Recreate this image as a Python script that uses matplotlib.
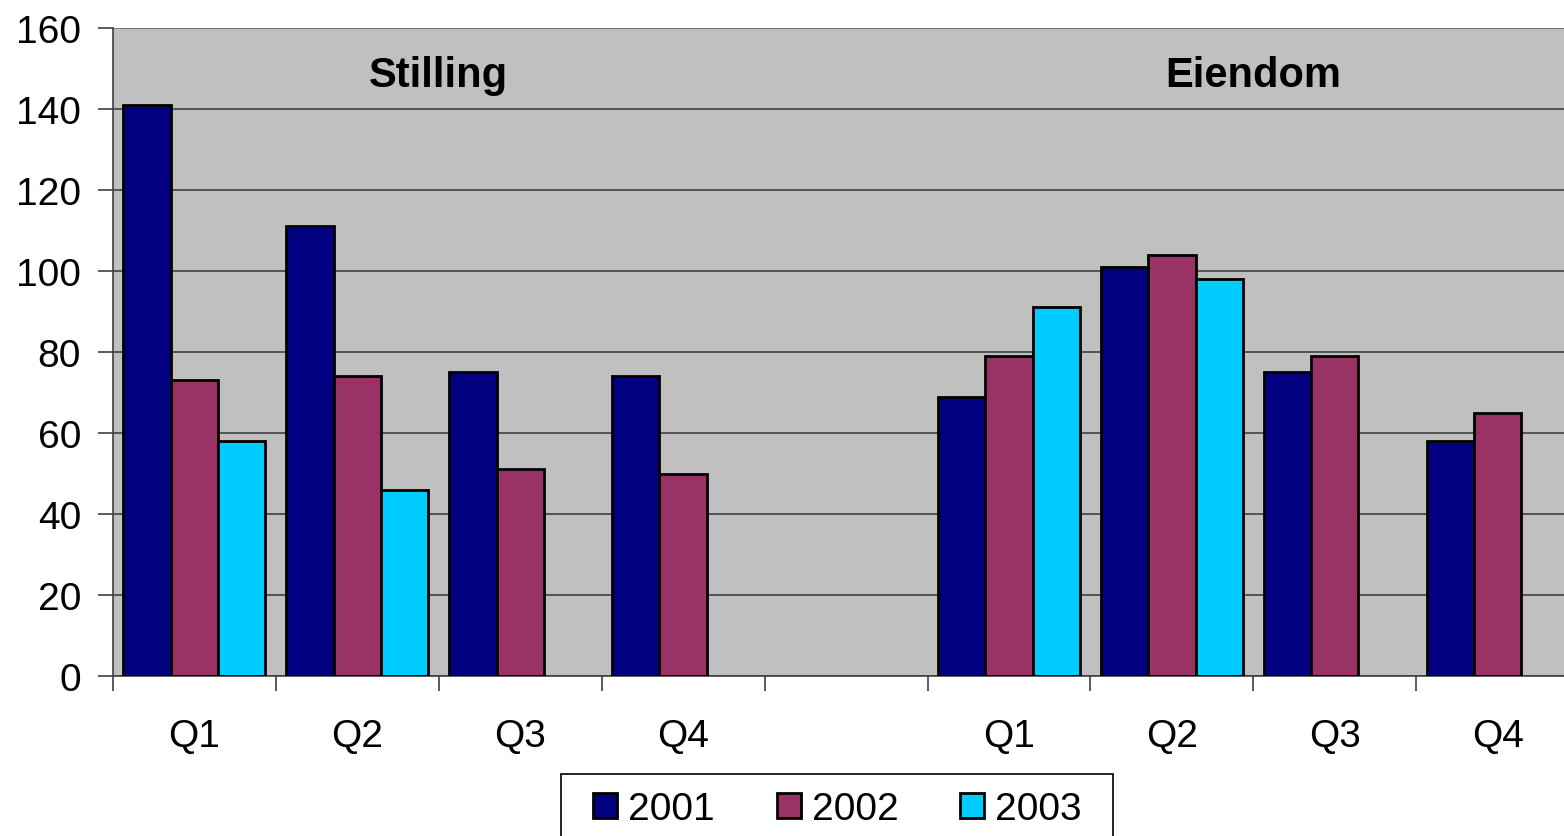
import numpy as np
import matplotlib.pyplot as plt
from matplotlib.patches import Rectangle

categories = ["Q1", "Q2", "Q3", "Q4", "", "Q1", "Q2", "Q3", "Q4"]
years = ["2001", "2002", "2003"]
v2001 = [141, 111, 75, 74, np.nan, 69, 101, 75, 58]
v2002 = [73, 74, 51, 50, np.nan, 79, 104, 79, 65]
v2003 = [58, 46, np.nan, np.nan, np.nan, 91, 98, np.nan, np.nan]
groups = ["Stilling", "Eiendom"]
colors = ["#000080", "#993366", "#00CCFF"]

plt.rcParams["font.family"] = ["Liberation Sans", "DejaVu Sans"]

W, H = 1564, 837
fig = plt.figure(figsize=(W / 100, H / 100), dpi=100)
# plot area runs a little past the right edge of the picture
ax = fig.add_axes([113 / W, (H - 677) / H, (162.9 * 9) / W, 648 / H])
ax.set_facecolor("#C0C0C0")

x = np.arange(len(categories))
w = 1 / 3.44
for i, (vals, c, lab) in enumerate(zip([v2001, v2002, v2003], colors, years)):
    ax.bar(x + (i - 1) * w, vals, width=w, color=c, edgecolor="black",
           linewidth=2, label=lab, zorder=3)

ax.set_xlim(-0.5, len(categories) - 0.5)
ax.set_ylim(0, 160)
ax.set_yticks(range(0, 161, 20))
ax.yaxis.grid(True, color="#404040", linewidth=1.2, zorder=0)
ax.set_axisbelow(True)

ax.set_xticks(x)
ax.set_xticklabels(categories)
ax.set_xticks(np.arange(-0.5, len(categories), 1), minor=True)
ax.tick_params(axis="x", which="major", length=0, pad=30, labelsize=28)
ax.tick_params(axis="x", which="minor", length=11, width=1.2, color="#404040")
ax.tick_params(axis="y", length=11, width=1.2, color="#404040", labelsize=28, pad=12)

for s in ["top", "right"]:
    ax.spines[s].set_visible(False)
for s in ["left", "bottom"]:
    ax.spines[s].set_color("#404040")
    ax.spines[s].set_linewidth(1.2)
ax.axhline(160, color="#808080", lw=1.2, zorder=1)

ax.text(1.5, 148.5, groups[0], ha="center", va="center", fontsize=30, fontweight="bold")
ax.text(6.5, 148.5, groups[1], ha="center", va="center", fontsize=30, fontweight="bold")

# legend box, cut by the bottom edge as in the original
fig.patches.append(Rectangle((561 / W, -0.01), (1113 - 561) / W, (H - 775) / H + 0.01,
                             transform=fig.transFigure, facecolor="white",
                             edgecolor="black", linewidth=1.2))
fs = 28
px = fs * 100 / 72
fig.legend(loc="center left", bbox_to_anchor=(593 / W, (H - 810) / H),
           ncol=3, fontsize=fs, frameon=False,
           handlelength=24 / px, handleheight=24 / px, handletextpad=11 / px,
           columnspacing=62 / px, borderpad=0, borderaxespad=0)

fig.savefig("out.png", dpi=100)
